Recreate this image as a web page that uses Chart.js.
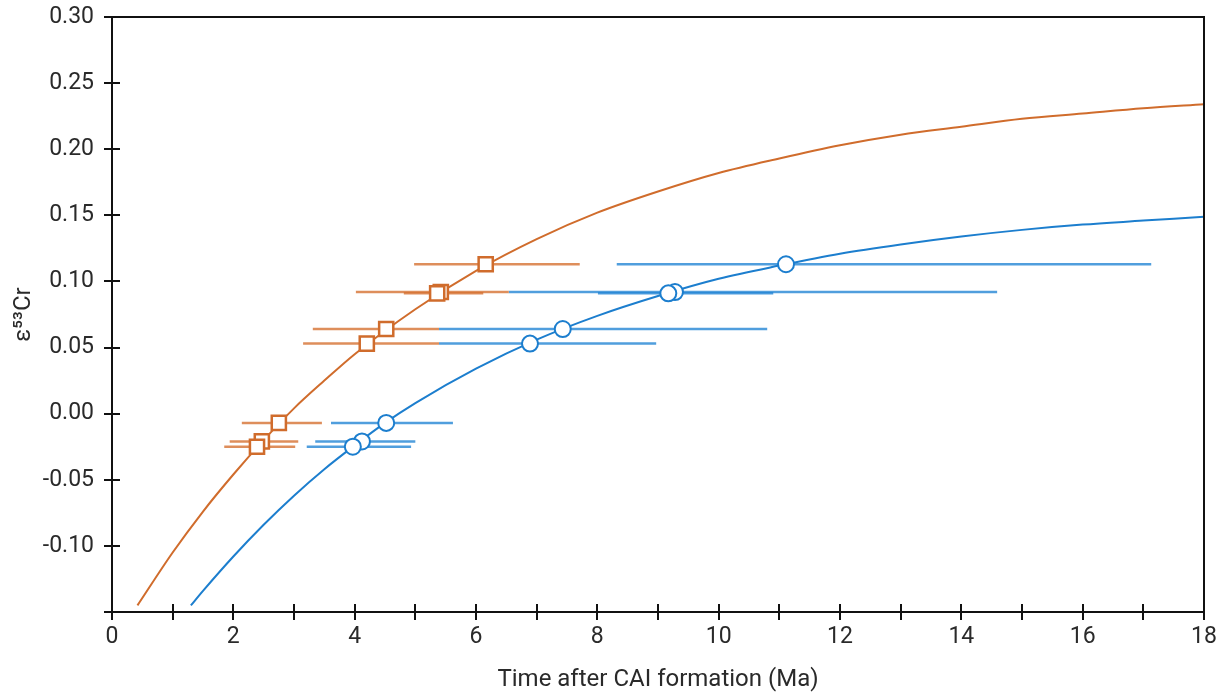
<!DOCTYPE html>
<html>
<head>
<meta charset="utf-8">
<script src="https://cdn.jsdelivr.net/npm/chart.js@4"></script>
<style>
  html, body { margin: 0; padding: 0; background: #fff; }
  #wrap { width: 1228px; height: 695px; }
</style>
</head>
<body>
<div id="wrap"><canvas id="grafico"></canvas></div>
<script>
// valores de ε53Cr medidos (mesmos para os dois modelos)
const epsilon = [0.113, 0.092, 0.091, 0.064, 0.053, -0.007, -0.021, -0.025];

// idades pelo modelo laranja (quadrados) e barras de erro
const idadeLaranja = [6.16, 5.42, 5.36, 4.52, 4.20, 2.75, 2.47, 2.39];
const erroLaranjaMin = [4.98, 4.02, 4.81, 3.31, 3.15, 2.14, 1.94, 1.85];
const erroLaranjaMax = [7.71, 6.54, 6.12, 5.39, 5.39, 3.46, 3.07, 3.02];

// idades pelo modelo azul (circulos) e barras de erro
const idadeAzul = [11.11, 9.28, 9.17, 7.43, 6.89, 4.52, 4.12, 3.97];
const erroAzulMin = [8.32, 6.54, 8.01, 5.39, 5.39, 3.61, 3.35, 3.21];
const erroAzulMax = [17.13, 14.59, 10.9, 10.8, 8.97, 5.62, 5.00, 4.93];

// curvas de evolucao
const curvaLaranjaT = [0.42, 1, 1.5, 2, 2.5, 3, 3.5, 4, 5, 6, 7, 8, 9, 10, 11, 12, 13, 14, 15, 16, 17, 18];
const curvaLaranjaE = [-0.145, -0.105, -0.074, -0.046, -0.020, 0.004, 0.025, 0.045, 0.079, 0.108, 0.132, 0.152, 0.168, 0.182, 0.193, 0.203, 0.211, 0.217, 0.223, 0.227, 0.231, 0.234];
const curvaAzulT = [1.3, 1.5, 2, 2.5, 3, 3.5, 4, 4.5, 5, 6, 7, 8, 9, 10, 11, 12, 13, 14, 15, 16, 17, 18];
const curvaAzulE = [-0.145, -0.134, -0.108, -0.084, -0.062, -0.042, -0.024, -0.007, 0.008, 0.034, 0.056, 0.074, 0.089, 0.102, 0.112, 0.121, 0.128, 0.134, 0.139, 0.143, 0.146, 0.149];

const laranja = 'rgb(208,108,44)';
const laranjaBarra = 'rgba(214,114,50,0.8)';
const azul = 'rgb(28,126,206)';
const azulBarra = 'rgba(36,134,212,0.8)';

function montaCurva(ts, es) {
  return ts.map((t, i) => ({ x: t, y: es[i] }));
}

function montaBarras(ys, mins, maxs, cor, ordem) {
  return ys.map((y, i) => ({
    type: 'line',
    data: [{ x: mins[i], y: y }, { x: maxs[i], y: y }],
    borderColor: cor,
    borderWidth: 2.5,
    pointRadius: 0,
    order: ordem
  }));
}

const datasets = [
  // pontos por cima de tudo
  {
    type: 'line', showLine: false, order: 0,
    data: idadeAzul.map((t, i) => ({ x: t, y: epsilon[i] })),
    pointStyle: 'circle', pointRadius: 8, pointBorderWidth: 2,
    pointBackgroundColor: '#fff', pointBorderColor: azul
  },
  {
    type: 'line', showLine: false, order: 0,
    data: idadeLaranja.map((t, i) => ({ x: t, y: epsilon[i] })),
    pointStyle: 'rect', pointRadius: 10, pointBorderWidth: 2.5,
    pointBackgroundColor: '#fff', pointBorderColor: laranja
  },
  {
    type: 'line', order: 1, data: montaCurva(curvaLaranjaT, curvaLaranjaE),
    borderColor: laranja, borderWidth: 2, pointRadius: 0, cubicInterpolationMode: 'monotone'
  },
  {
    type: 'line', order: 1, data: montaCurva(curvaAzulT, curvaAzulE),
    borderColor: azul, borderWidth: 2, pointRadius: 0, cubicInterpolationMode: 'monotone'
  },
  ...montaBarras(epsilon, erroLaranjaMin, erroLaranjaMax, laranjaBarra, 2),
  ...montaBarras(epsilon, erroAzulMin, erroAzulMax, azulBarra, 3)
];

// moldura e tracos internos dos eixos
const moldura = {
  id: 'moldura',
  afterDraw(chart) {
    const { ctx, chartArea: a, scales } = chart;
    ctx.save();
    ctx.strokeStyle = '#111';
    ctx.lineWidth = 2;
    ctx.strokeRect(a.left, a.top, a.right - a.left, a.bottom - a.top);
    ctx.beginPath();
    scales.x.ticks.forEach(t => {
      const px = Math.round(scales.x.getPixelForValue(t.value));
      if (px <= a.left + 1 || px >= a.right - 1) return;
      ctx.moveTo(px, a.bottom);
      ctx.lineTo(px, a.bottom - 8);
    });
    scales.y.ticks.forEach(t => {
      const py = Math.round(scales.y.getPixelForValue(t.value));
      if (py >= a.bottom - 1 || py <= a.top + 1) return;
      ctx.moveTo(a.left, py);
      ctx.lineTo(a.left + 8, py);
    });
    ctx.stroke();
    ctx.restore();
  }
};

const fonte = { family: 'Roboto', size: 23, lineHeight: 1 };
const fonteTitulo = { family: 'Roboto', size: 24 };

new Chart(document.getElementById('grafico'), {
  type: 'line',
  data: { datasets },
  plugins: [moldura],
  options: {
    responsive: true,
    maintainAspectRatio: false,
    animation: false,
    layout: { padding: { top: 17, right: 24, left: 0, bottom: 0 } },
    plugins: { legend: { display: false }, tooltip: { enabled: false } },
    scales: {
      x: {
        type: 'linear', min: 0, max: 18,
        ticks: {
          stepSize: 1, color: '#2a2a2a', font: fonte, padding: 6, maxRotation: 0, autoSkip: false,
          callback: v => (v % 2 === 0 ? String(v) : '')
        },
        grid: { drawOnChartArea: false, color: '#111', lineWidth: 2, tickLength: 8 },
        border: { color: '#111', width: 2 },
        title: { display: true, text: 'Time after CAI formation (Ma)', color: '#2a2a2a', font: fonteTitulo, padding: { top: 0, bottom: 1 } },
        afterFit: s => { s.height = 83; s.paddingLeft = 0; s.paddingRight = 0; }
      },
      y: {
        type: 'linear', min: -0.15, max: 0.30,
        ticks: {
          stepSize: 0.05, color: '#2a2a2a', font: fonte, padding: 10,
          callback: v => {
            if (v < -0.12) return '';
            if (Math.abs(v) < 1e-9) return '0.00';
            return v.toFixed(2);
          }
        },
        grid: { drawOnChartArea: false, color: '#111', lineWidth: 2, tickLength: 8 },
        border: { color: '#111', width: 2 },
        title: { display: true, text: 'ε⁵³Cr', color: '#2a2a2a', font: fonteTitulo, padding: { top: 10, bottom: 0 } },
        afterFit: s => { s.width = 112; s.paddingTop = 0; s.paddingBottom = 0; }
      }
    }
  }
});
</script>
</body>
</html>
